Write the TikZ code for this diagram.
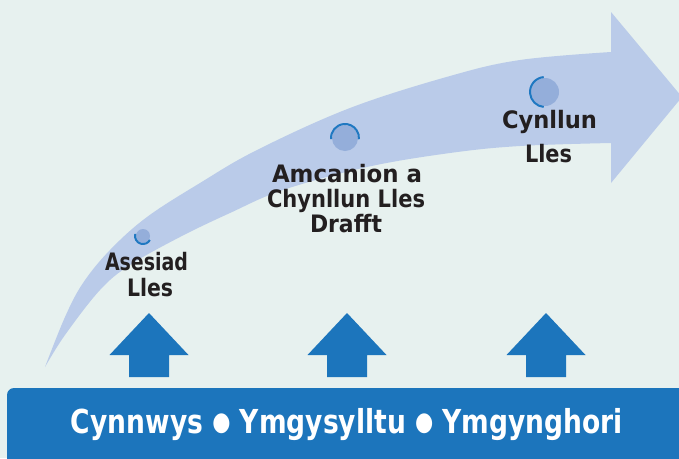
\documentclass[tikz,border=0pt]{standalone}
\usepackage{fontspec}
\usepackage{graphicx}
\setmainfont{DejaVu Sans}
\definecolor{bg}{HTML}{E7F1EF}
\definecolor{band}{HTML}{BACBE9}
\definecolor{dot}{HTML}{94AEDA}
\definecolor{deep}{HTML}{1C75BC}
\definecolor{ringc}{HTML}{1F78C1}
\definecolor{ink}{HTML}{231F20}
\newcommand{\fitw}[2]{\resizebox{#1pt}{\height}{#2}}
\newcommand{\smallbul}{{\fontsize{26}{26}\selectfont\raisebox{2.5pt}{●}}}
\begin{document}
\begin{tikzpicture}[x=1pt,y=-1pt,
  lbl/.style={font=\bfseries\fontsize{24}{24}\selectfont, text=ink, inner sep=0pt, anchor=base},
  barlbl/.style={font=\bfseries\fontsize{33}{33}\selectfont, text=white, inner sep=0pt, anchor=base},
  dotc/.style={circle, fill=dot, inner sep=0pt},
  ring/.style={draw=ringc, line width=2pt},
  uparrow/.style={fill=deep}]
\useasboundingbox (0,0) rectangle (679,458);
\fill[bg] (0,0) rectangle (679,458);
% big curved arrow
\fill[band] plot[smooth, tension=0.6] coordinates {(45,367) (65,317) (83,283) (110,250) (147,217) (200,183) (257,150) (350,108) (450,76) (520,60) (611,52)}
  -- (611,12) -- (682,97) -- (611,183) -- (611,143)
  -- plot[smooth, tension=0.6] coordinates {(611,143) (520,146) (450,153) (367,167) (283,190) (230,213) (180,237) (130,265) (100,290) (65,335) (45,367)} -- cycle;
% milestone dots
\node[dotc, minimum size=14pt] (c1) at (143,236) {};
\draw[ring] ([shift={(-165:8)}]c1.center) arc[start angle=-165, end angle=-330, radius=8];
\node[dotc, minimum size=26pt] (c2) at (345,138) {};
\draw[ring] ([shift={(-185:14)}]c2.center) arc[start angle=-185, end angle=5, radius=14];
\node[dotc, minimum size=28pt] (c3) at (545,92) {};
\draw[ring] ([shift={(-95:15)}]c3.center) arc[start angle=-95, end angle=-265, radius=15];
% labels
\node[lbl] (a1) at (146.5,270) {\fitw{83}{Asesiad}};
\node[lbl] (a2) at (150,296) {\fitw{46}{Lles}};
\node[lbl] (b1) at (347,182) {\fitw{150}{Amcanion a}};
\node[lbl] (b2) at (346,207) {\fitw{158}{Chynllun Lles}};
\node[lbl] (b3) at (346,232) {\fitw{72}{Drafft}};
\node[lbl] (d1) at (549.5,128) {\fitw{95}{Cynllun}};
\node[lbl] (d2) at (548.5,162) {\fitw{47}{Lles}};
% up arrows
\foreach \cx/\nm in {149/u1,347/u2,546/u3}{
  \fill[uparrow] (\cx-20,377) -- (\cx-20,355) -- (\cx-39.5,355) -- (\cx,313) -- (\cx+39.5,355) -- (\cx+20,355) -- (\cx+20,377) -- cycle;
}
% bottom bar
\fill[deep, rounded corners=7pt] (7,388) rectangle (720,500);
\node[barlbl] (bar) at (347,433) {\fitw{552}{Cynnwys \smallbul{} Ymgysylltu \smallbul{} Ymgynghori}};
\end{tikzpicture}
\end{document}
